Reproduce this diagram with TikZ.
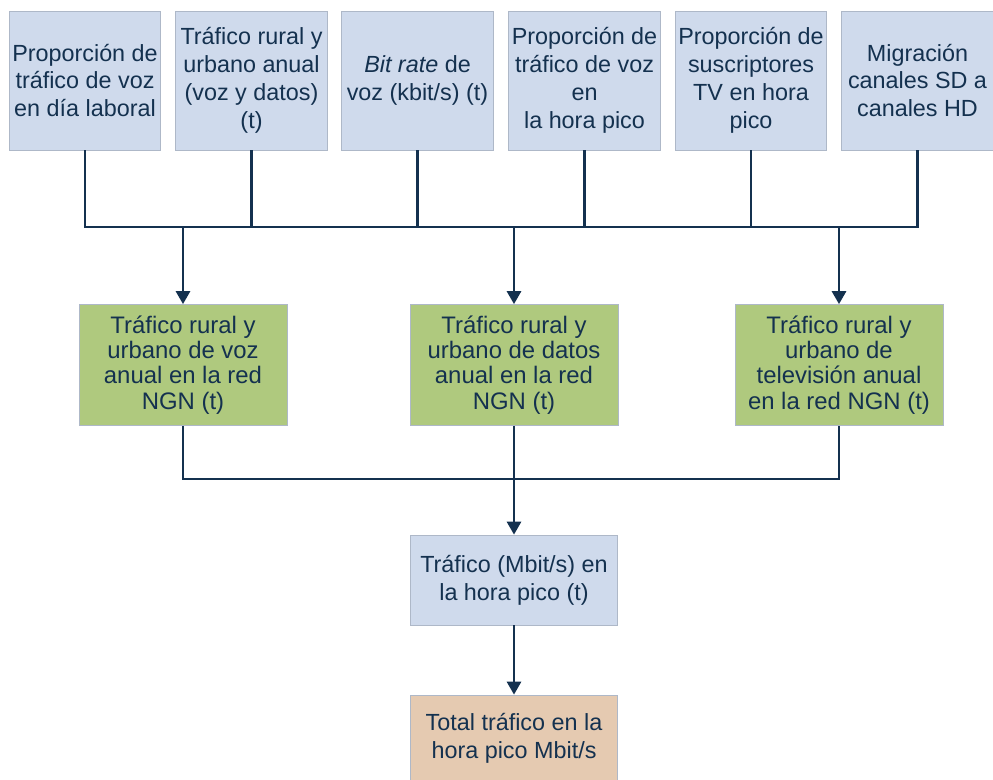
\documentclass[tikz,border=0pt]{standalone}
\usepackage{fontspec}
\setmainfont{Liberation Sans}
\usetikzlibrary{arrows.meta}

\definecolor{boxblue}{HTML}{CFDAEC}
\definecolor{boxgreen}{HTML}{AFC97E}
\definecolor{boxtan}{HTML}{E5CAB1}
\definecolor{edgegray}{HTML}{AEB8C8}
\definecolor{navy}{HTML}{14314F}

\tikzset{
  wire/.style={draw=navy,line width=1.6pt},
  arrow/.style={wire,-{Triangle[length=0.26cm,width=0.28cm]}},
}

\begin{document}
\begin{tikzpicture}[x=0.02cm,y=-0.02cm]
  \useasboundingbox (0,0) rectangle (993,780);

  \begin{scope}[every node/.style={draw=edgegray,fill=boxblue,text=navy,align=center,
      inner sep=1pt,minimum width=3.03cm,minimum height=2.78cm,
      font=\fontsize{13.3}{15.9}\selectfont}]
    \node (t1) at (85,80.5) {Proporción de\\tráfico de voz\\en día laboral};
    \node (t2) at (251.5,80.5) {Tráfico rural y\\urbano anual\\(voz y datos)\\(t)};
    \node (t3) at (417.5,80.5) {\textit{Bit rate} de\\voz (kbit/s) (t)};
    \node (t4) at (584.5,80.5) {Proporción de\\tráfico de voz\\en\\la hora pico};
    \node (t5) at (751,80.5) {Proporción de\\suscriptores\\TV en hora\\pico};
    \node (t6) at (917.5,80.5) {Migración\\canales SD a\\canales HD};
  \end{scope}

  \begin{scope}[every node/.style={draw=edgegray,fill=boxgreen,text=navy,align=center,
      inner sep=1pt,minimum width=4.16cm,minimum height=2.42cm,
      font=\fontsize{13.6}{14.4}\selectfont}]
    \node (g1) at (183,365) {Tráfico rural y\\urbano de voz\\anual en la red\\NGN (t)};
    \node (g2) at (514,365) {Tráfico rural y\\urbano de datos\\anual en la red\\NGN (t)};
    \node (g3) at (839,365) {Tráfico rural y\\urbano de\\televisión anual\\en la red NGN (t)};
  \end{scope}

  \begin{scope}[every node/.style={draw=edgegray,text=navy,align=center,
      inner sep=1pt,minimum width=4.14cm,
      font=\fontsize{13.3}{15.9}\selectfont}]
    \node[fill=boxblue,minimum height=1.8cm] (hp) at (514,580) {Tráfico (Mbit/s) en\\la hora pico (t)};
    \node[fill=boxtan,minimum height=1.74cm] (tot) at (514,738.5) {Total tráfico en la\\hora pico Mbit/s};
  \end{scope}

  \coordinate (bus) at (0,227);
  \coordinate (bus2) at (0,479);

  % inputs into the upper bus
  \draw[wire] (t1.south) |- (t6.south |- bus) -- (t6.south);
  \foreach \n in {t2,t3,t4,t5}
    \draw[wire] (\n.south) -- (\n.south |- bus);
  \foreach \n in {g1,g2,g3}
    \draw[arrow] (\n.north |- bus) -- (\n.north);

  % lower bus
  \draw[wire] (g1.south) |- (g3.south |- bus2) -- (g3.south);
  \draw[arrow] (g2.south) -- (hp.north);
  \draw[arrow] (hp.south) -- (tot.north);
\end{tikzpicture}
\end{document}
